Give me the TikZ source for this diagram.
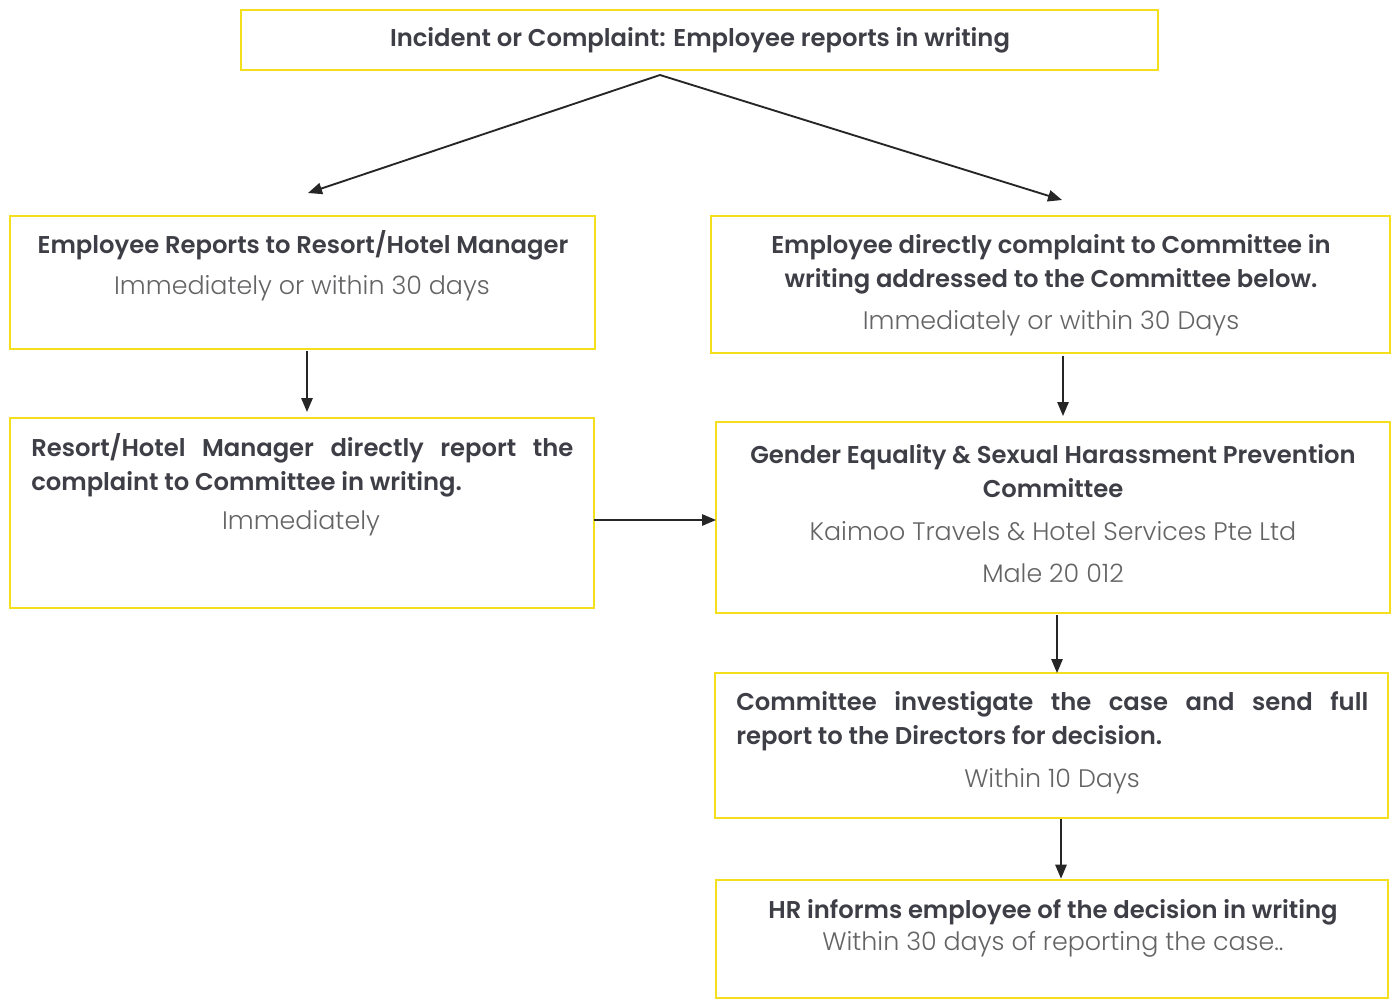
\documentclass[tikz,border=0pt]{standalone}
\usepackage{fontspec}
\setmainfont{Poppins}[BoldFont={Poppins SemiBold}]
\newfontfamily\lightfont{Poppins Light}
\usetikzlibrary{arrows.meta,fit}
\definecolor{boxy}{HTML}{F3DF1C}
\definecolor{headc}{HTML}{3E3E46}
\definecolor{subc}{HTML}{646466}
\begin{document}
\begin{tikzpicture}[x=0.75pt,y=-0.75pt,
  box/.style={draw=boxy,line width=2.2pt,inner sep=0pt,outer sep=0pt},
  head/.style={text=headc,font=\fontsize{18.2}{25.5}\selectfont\bfseries,inner sep=0pt},
  sub/.style={text=subc,font=\fontsize{19}{25.5}\selectfont\lightfont,inner sep=0pt},
  arr/.style={line width=1.4pt,draw=black!85,-{Triangle[length=10.5pt,width=8.5pt]}}]
\useasboundingbox (0,0) rectangle (1394,1000);
\fill[white] (0,0) rectangle (1394,1000);
% box corners
\coordinate (t1) at (241,10);  \coordinate (t2) at (1158,70);
\coordinate (a1) at (10,216);  \coordinate (a2) at (595,349);
\coordinate (b1) at (711,216); \coordinate (b2) at (1390,353);
\coordinate (c1) at (10,418);  \coordinate (c2) at (594,608);
\coordinate (d1) at (716,422); \coordinate (d2) at (1390,613);
\coordinate (e1) at (715,673); \coordinate (e2) at (1388,818);
\coordinate (f1) at (716,880); \coordinate (f2) at (1388,998);
\node[box,fit=(t1)(t2)] (top) {};
\node[box,fit=(a1)(a2)] (A) {};
\node[box,fit=(b1)(b2)] (B) {};
\node[box,fit=(c1)(c2)] (C) {};
\node[box,fit=(d1)(d2)] (D) {};
\node[box,fit=(e1)(e2)] (E) {};
\node[box,fit=(f1)(f2)] (F) {};
% texts
\node[head] (ttop) at (700,40) {Incident or Complaint: Employee reports in writing};
\node[head] (ta1) at (303,245) {Employee Reports to Resort/Hotel Manager};
\node[sub]  (ta2) at (302,288) {Immediately or within 30 days};
\node[head,align=center] (tb1) at (1051,264) {Employee directly complaint to Committee in\\writing addressed to the Committee below.};
\node[sub]  (tb2) at (1051,323) {Immediately or within 30 Days};
\node[head,text width=406.5pt,align=justify,anchor=north west] (tc1) at (31,433) {Resort/Hotel Manager directly report the\linebreak complaint to Committee in writing.};
\node[sub]  (tc2) at (301,523) {Immediately};
\node[head,align=center] (td1) at (1053,471) {Gender Equality \& Sexual Harassment Prevention\\Committee};
\node[sub]  (td2) at (1053,531) {Kaimoo Travels \& Hotel Services Pte Ltd};
\node[sub]  (td3) at (1053,573) {Male 20 012};
\node[head,text width=474pt,align=justify,anchor=north west] (te1) at (736,691) {Committee investigate the case and send full\linebreak report to the Directors for decision.};
\node[sub]  (te2) at (1052,781) {Within 10 Days};
\node[head] (tf1) at (1053,912) {HR informs employee of the decision in writing};
\node[sub]  (tf2) at (1053,944) {Within 30 days of reporting the case..};
% connectors
\coordinate (split) at (660,75);
\coordinate (ea) at (308,193);
\coordinate (eb) at (1062,200);
\coordinate (xa) at (307,0);
\coordinate (xb) at (1063,0);
\coordinate (xd) at (1057,0);
\coordinate (xe) at (1061,0);
\coordinate (yc) at (0,520);
\draw[arr] (split) -- (ea);
\draw[arr] (split) -- (eb);
\draw[arr,shorten <=1.5pt,shorten >=4.5pt] (A.south -| xa) -- (C.north -| xa);
\draw[arr,shorten <=2.5pt,shorten >=4.5pt] (B.south -| xb) -- (D.north -| xb);
\draw[arr] (C.east |- yc) -- (D.west |- yc);
\draw[arr,shorten <=1.5pt] (D.south -| xd) -- (E.north -| xd);
\draw[arr,shorten <=1pt,shorten >=1pt] (E.south -| xe) -- (F.north -| xe);
\end{tikzpicture}
\end{document}
